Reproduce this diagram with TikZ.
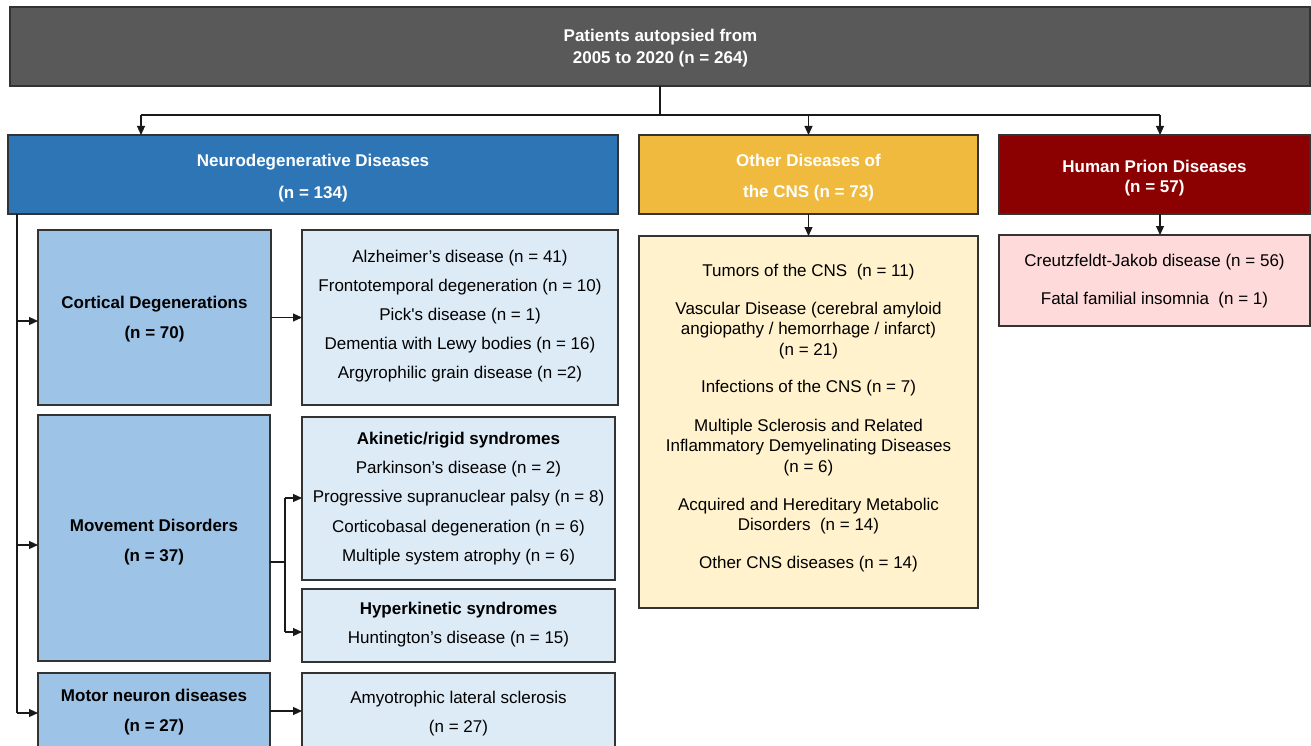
\documentclass[tikz,border=0pt]{standalone}
\usepackage{fontspec}
\setmainfont{Liberation Sans}
\usetikzlibrary{arrows.meta}
\definecolor{topgray}{HTML}{595959}
\definecolor{neuroblue}{HTML}{2E75B6}
\definecolor{othergold}{HTML}{F0BA3E}
\definecolor{priondark}{HTML}{8B0000}
\definecolor{otherlight}{HTML}{FFF2CC}
\definecolor{prionlight}{HTML}{FFDADA}
\definecolor{midblue}{HTML}{9DC3E6}
\definecolor{lightblue}{HTML}{DDEBF7}
\newcommand{\mkbox}[6]{\node[boxst, fill=#6, minimum width={#4-#2}, minimum height={#5-#3}] (#1) at ({(#2+#4)/2},{(#3+#5)/2}) {};}
\begin{document}
\begin{tikzpicture}[x=1pt,y=-1pt,
  boxst/.style={draw=black!80, line width=1.2pt, inner sep=0pt, outer sep=0pt},
  txt/.style={align=center, inner sep=0pt, yshift=-2pt, font=\fontsize{17}{#1}\selectfont},
  txt/.default=20,
  htxt/.style={align=center, inner sep=0pt, yshift=-2pt, text=white, font=\bfseries\fontsize{17}{#1}\selectfont},
  htxt/.default=22,
  btxt/.style={align=center, inner sep=0pt, yshift=-2pt, font=\bfseries\fontsize{17}{#1}\selectfont},
  btxt/.default=30,
  conn/.style={draw=black!90, line width=1.1pt},
  arr/.style={conn, -{Triangle[length=9pt,width=8pt]}}]
\useasboundingbox (0,0) rectangle (1311,746);
\fill[white] (0,0) rectangle (1311,746);
\clip (0,0) rectangle (1311,746);

% boxes
\mkbox{top}{10}{7}{1310}{86}{topgray}
\mkbox{neuro}{8}{135}{618}{214}{neuroblue}
\mkbox{other}{639}{135}{978}{214}{othergold}
\mkbox{prion}{999}{135}{1310}{214}{priondark}
\mkbox{otherlist}{639}{236}{978}{608}{otherlight}
\mkbox{prionlist}{999}{235}{1310}{326}{prionlight}
\mkbox{cort}{38}{230}{271}{405}{midblue}
\mkbox{cortlist}{302}{230}{618}{405}{lightblue}
\mkbox{mov}{38}{415}{270}{661}{midblue}
\mkbox{akin}{302}{417}{615}{580}{lightblue}
\mkbox{hyper}{302}{589}{615}{662}{lightblue}
\mkbox{motor}{38}{673}{270}{780}{midblue}
\mkbox{als}{302}{673}{615}{780}{lightblue}

% texts
\node[htxt] (t-top) at (660.5,46) {Patients autopsied from\\2005 to 2020 (n = 264)};
\node[htxt=32] (t-neuro) at (313,176) {Neurodegenerative Diseases\\(n = 134)};
\node[htxt=31] (t-other) at (808.5,175.5) {Other Diseases of\\the CNS (n = 73)};
\node[htxt=20] (t-prion) at (1154.5,176) {Human Prion Diseases\\(n = 57)};
\node[txt=20.5] (t-otherlist) at (808.5,416) {Tumors of the CNS~ (n = 11)\\[17.5pt]
  Vascular Disease (cerebral amyloid\\angiopathy / hemorrhage / infarct)\\(n = 21)\\[17pt]
  Infections of the CNS (n = 7)\\[18pt]
  Multiple Sclerosis and Related\\Inflammatory Demyelinating Diseases\\(n = 6)\\[17.5pt]
  Acquired and Hereditary Metabolic\\Disorders~ (n = 14)\\[17.5pt]
  Other CNS diseases (n = 14)};
\node[txt=38] (t-prionlist) at (1154.5,279) {Creutzfeldt-Jakob disease (n = 56)\\Fatal familial insomnia~ (n = 1)};
\node[btxt] (t-cort) at (154.5,317) {Cortical Degenerations\\(n = 70)};
\node[txt=29] (t-cortlist) at (460,314) {Alzheimer's disease (n = 41)\\Frontotemporal degeneration (n = 10)\\Pick\textquotesingle s disease (n = 1)\\Dementia with Lewy bodies (n = 16)\\Argyrophilic grain disease (n =2)};
\node[btxt] (t-mov) at (154,540) {Movement Disorders\\(n = 37)};
\node[txt=29.25] (t-akin) at (458.5,496.5) {\textbf{Akinetic/rigid syndromes}\\Parkinson's disease (n = 2)\\Progressive supranuclear palsy (n = 8)\\Corticobasal degeneration (n = 6)\\Multiple system atrophy (n = 6)};
\node[txt=29] (t-hyper) at (458.5,622.5) {\textbf{Hyperkinetic syndromes}\\Huntington's disease (n = 15)};
\node[btxt] (t-motor) at (154,710) {Motor neuron diseases\\(n = 27)};
\node[txt=29] (t-als) at (458.5,711.5) {Amyotrophic lateral sclerosis\\(n = 27)};

% top connectors
\coordinate (jn) at (141,115);
\coordinate (jp) at (1160,115);
\draw[conn] (top.south) |- (jn);
\draw[conn] (top.south) |- (jp);
\draw[arr] (jn) -- (jn |- neuro.north);
\draw[arr] (other.north |- jn) -- (other.north);
\draw[arr] (jp) -- (jp |- prion.north);
\draw[arr] (other.south) -- (otherlist.north);
\draw[arr] (jp |- prion.south) -- (jp |- prionlist.north);

% left bus
\coordinate (lb) at (17,214);
\coordinate (lbc) at (17,321);
\coordinate (lbm) at (17,545);
\coordinate (lbn) at (17,713);
\draw[conn] (lb) -- (lbn);
\draw[arr] (lbc) -- (lbc -| cort.west);
\draw[arr] (lbm) -- (lbm -| mov.west);
\draw[arr] (lbn) -- (lbn -| motor.west);

% right connectors
\draw[arr] (cort.east) -- (cortlist.west);
\coordinate (mj) at (285,562);
\coordinate (mja) at (285,498);
\coordinate (mjh) at (285,632);
\draw[conn] (mj -| mov.east) -- (mj);
\draw[conn] (mja) -- (mjh);
\draw[arr] (mja) -- (mja -| akin.west);
\draw[arr] (mjh) -- (mjh -| hyper.west);
\coordinate (ma) at (270,711);
\draw[arr] (ma -| motor.east) -- (ma -| als.west);
\end{tikzpicture}
\end{document}
